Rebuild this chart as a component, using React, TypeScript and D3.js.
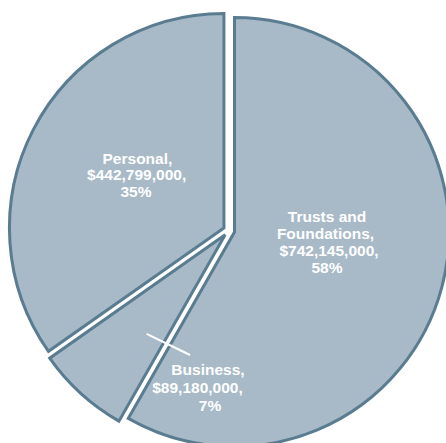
import React from 'react';
import * as d3 from 'd3';

// ---- data ----
const categories = ['Trusts and Foundations', 'Business', 'Personal'];
const nameLines = [['Trusts and', 'Foundations,'], ['Business,'], ['Personal,']];
const amounts = [742145000, 89180000, 442799000];
const percents = [58, 7, 35];

// ---- layout ----
const W = 446;
const H = 443;
const CX = 229;
const CY = 230.6;
const R = 214.5;
const EXPLODE = 5.7;
const FILL = '#a8bac7';
const STROKE = '#5a7c91';

// label anchors: polar (deg clockwise from north, distance) relative to the exploded slice center
const labelLayout = [
  { a: 83.6, d: 93.1, lh: 17, dx: [0, -1.5, 2, 0] },
  { a: 188.2, d: 141.5, lh: 18.3, dx: [3, -7.5, 5] },
  { a: 306.2, d: 108.2, lh: 16.4, dx: [0.8, 0, -0.7] },
];
// leader line for the Business slice (polar relative to its exploded center)
const leader = [
  { a: 218.4, d: 126.4 },
  { a: 196.3, d: 125.2 },
];

const polar = (a: number, d: number): [number, number] => {
  const rad = (a * Math.PI) / 180;
  return [Math.sin(rad) * d, -Math.cos(rad) * d];
};

export default function App() {
  const pie = d3
    .pie<number>()
    .sort(null)
    .value((d) => d);
  const slices = pie(amounts);
  const arc = d3.arc<d3.PieArcDatum<number>>().innerRadius(0).outerRadius(R);
  const fmt = d3.format(',');

  return (
    <svg
      width={W}
      height={H}
      style={{ position: 'absolute', left: 0, top: 0, overflow: 'hidden', background: '#fff' }}
    >
      {slices.map((s, i) => {
        const mid = (s.startAngle + s.endAngle) / 2;
        const ox = CX + Math.sin(mid) * EXPLODE;
        const oy = CY - Math.cos(mid) * EXPLODE;
        return (
          <g key={categories[i]} transform={`translate(${ox},${oy})`}>
            <path
              d={arc(s) || ''}
              fill={FILL}
              stroke={STROKE}
              strokeWidth={3}
              strokeLinejoin="miter"
            />
            {i === 1 && (
              <line
                x1={polar(leader[0].a, leader[0].d)[0]}
                y1={polar(leader[0].a, leader[0].d)[1]}
                x2={polar(leader[1].a, leader[1].d)[0]}
                y2={polar(leader[1].a, leader[1].d)[1]}
                stroke="#ffffff"
                strokeWidth={2.2}
              />
            )}
          </g>
        );
      })}
      {slices.map((s, i) => {
        const mid = (s.startAngle + s.endAngle) / 2;
        const ox = CX + Math.sin(mid) * EXPLODE;
        const oy = CY - Math.cos(mid) * EXPLODE;
        const L = labelLayout[i];
        const [lx, ly] = polar(L.a, L.d);
        const lines = [...nameLines[i], `$${fmt(amounts[i])},`, `${percents[i]}%`];
        return (
          <text
            key={'t' + i}
            textAnchor="middle"
            fontFamily="'Liberation Sans', Arial, sans-serif"
            fontWeight="bold"
            fontSize={15.5}
            fill="#ffffff"
          >
            {lines.map((t, j) => (
              <tspan key={j} x={ox + lx + (L.dx[j] || 0)} y={oy + ly + j * L.lh}>
                {t}
              </tspan>
            ))}
          </text>
        );
      })}
    </svg>
  );
}
